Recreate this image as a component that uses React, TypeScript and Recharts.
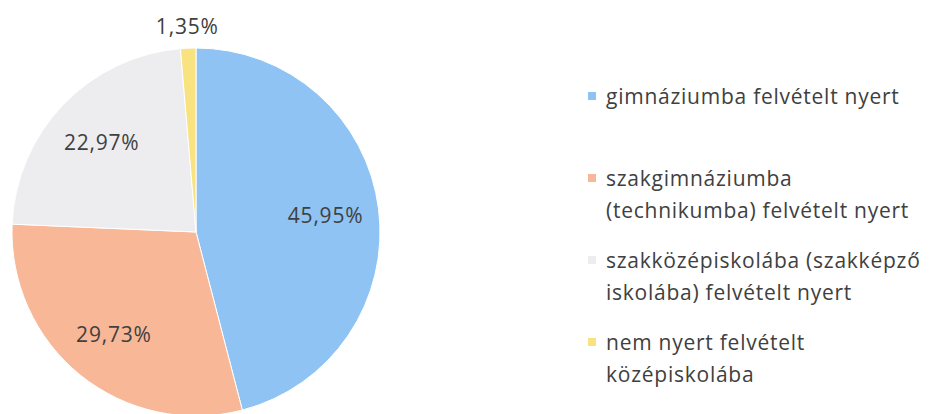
import React from "react";
import { PieChart, Pie, Cell, Legend } from "recharts";

const categories = [
  "gimnáziumba felvételt nyert",
  "szakgimnáziumba\n(technikumba) felvételt nyert",
  "szakközépiskolába (szakképző\niskolába) felvételt nyert",
  "nem nyert felvételt\nközépiskolába",
];
const shares = [45.95, 29.73, 22.97, 1.35];
const colors = ["#8ec3f3", "#f8b898", "#ededf0", "#f9e380"];

const data = categories.map((name, i) => ({ name, value: shares[i] }));

const FONT = "'Open Sans', Lato, sans-serif";
const RADIAN = Math.PI / 180;

const renderLabel = (props: any) => {
  const { cx, cy, midAngle, outerRadius, value } = props;
  const small = value < 5;
  const r = small ? outerRadius + 22 : outerRadius * 0.71;
  const x = cx + r * Math.cos(-midAngle * RADIAN);
  const y = cy + r * Math.sin(-midAngle * RADIAN);
  return (
    <text
      x={x}
      y={y}
      textAnchor="middle"
      dominantBaseline="central"
      fill="#404040"
      fontFamily={FONT}
      fontSize={21}
      letterSpacing={0.8}
    >
      {value.toFixed(2).replace(".", ",") + "%"}
    </text>
  );
};

const renderLegend = () => (
  <div style={{ fontFamily: FONT, fontSize: 21, letterSpacing: 0.75, color: "#404040" }}>
    {categories.map((c, i) => (
      <div key={i} style={{ height: 82, position: "relative", paddingLeft: 20 }}>
        <span
          style={{
            position: "absolute",
            left: 2,
            top: 12,
            width: 8,
            height: 8,
            background: colors[i],
          }}
        />
        <div style={{ whiteSpace: "pre", lineHeight: "32px" }}>{c}</div>
      </div>
    ))}
  </div>
);

export default function App() {
  return (
    <div style={{ width: 930, height: 414, position: "absolute", left: 0, top: 0, background: "#fff", overflow: "hidden" }}>
      <PieChart width={930} height={414} margin={{ top: 0, right: 0, bottom: 0, left: 0 }}>
        <Pie
          data={data}
          dataKey="value"
          nameKey="name"
          cx={196}
          cy={232}
          outerRadius={184}
          startAngle={90}
          endAngle={-270}
          stroke="#ffffff"
          strokeWidth={1}
          label={renderLabel}
          labelLine={false}
          isAnimationActive={false}
        >
          {data.map((d, i) => (
            <Cell key={i} fill={colors[i]} />
          ))}
        </Pie>
        <Legend
          content={renderLegend}
          layout="vertical"
          wrapperStyle={{ position: "absolute", left: 586, top: 80, width: 344 }}
        />
      </PieChart>
    </div>
  );
}
